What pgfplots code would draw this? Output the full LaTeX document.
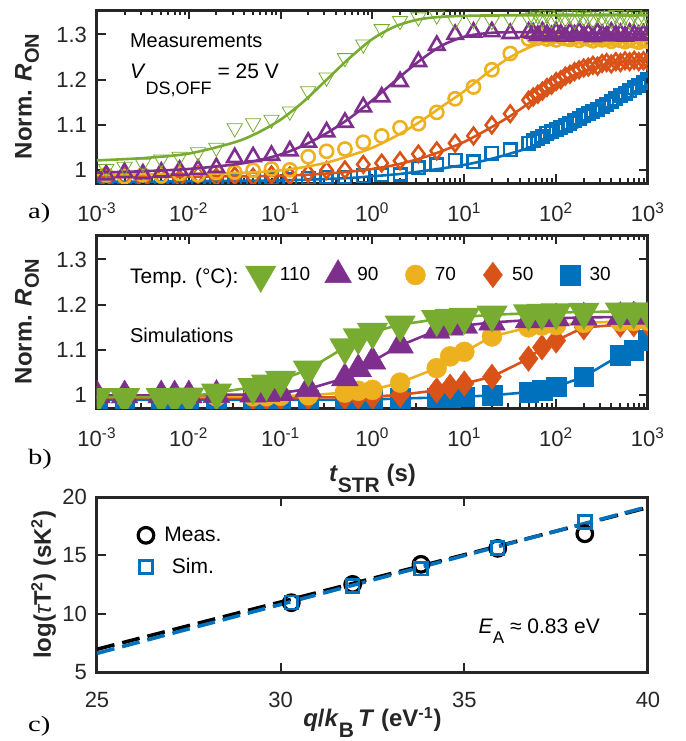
\documentclass[border=0pt]{standalone}
\usepackage{pgfplots}
\pgfplotsset{compat=1.18}
\usepackage{pgfplotstable}
\usepackage{fontspec}
\setmainfont{Liberation Sans}
\newfontfamily\panelfont{Liberation Serif}[FakeStretch=1.3]

\definecolor{cgreen}{rgb}{0.466,0.674,0.188}
\definecolor{cpurple}{rgb}{0.494,0.184,0.556}
\definecolor{cyellow}{rgb}{0.929,0.694,0.125}
\definecolor{corange}{rgb}{0.85,0.325,0.098}
\definecolor{cblue}{rgb}{0,0.447,0.741}
\definecolor{axgray}{HTML}{262626}

% measurements, panel a
\pgfplotstableread{
t g p y o b
0.001259 1.003 0.990 0.990 0.980 0.975
0.001995 1.008 0.995 0.986 0.985 0.978
0.003162 1.015 0.992 0.990 0.978 0.975
0.005012 1.024 0.996 0.988 0.985 0.977
0.007943 1.030 1.000 0.993 0.982 0.976
0.01259 1.040 1.002 0.990 0.990 0.978
0.01995 1.050 1.006 0.995 0.985 0.980
0.03162 1.093 1.028 0.996 0.988 0.978
0.05012 1.104 1.030 1.000 0.985 0.980
0.07943 1.112 1.033 1.003 0.990 0.982
0.1259 1.130 1.043 1.001 0.988 0.980
0.1995 1.175 1.062 1.030 0.993 0.983
0.3162 1.205 1.085 1.042 1.000 0.985
0.5012 1.248 1.106 1.047 1.001 0.985
0.7943 1.278 1.140 1.062 1.013 0.988
1.259 1.312 1.162 1.076 1.016 0.990
1.995 1.330 1.196 1.094 1.021 0.991
3.162 1.338 1.240 1.103 1.036 1.006
5.012 1.342 1.276 1.128 1.043 1.012
7.943 1.330 1.300 1.158 1.060 1.022
12.59 1.332 1.305 1.184 1.076 1.019
19.95 1.330 1.306 1.222 1.100 1.038
31.62 1.335 1.302 1.258 1.125 1.045
50.12 1.336 1.305 1.290 1.155 1.060
56.23 1.338 1.303 1.296 1.162 1.065
63.10 1.342 1.298 1.292 1.168 1.070
70.79 1.335 1.306 1.298 1.175 1.075
79.43 1.344 1.300 1.290 1.183 1.082
89.13 1.333 1.297 1.294 1.188 1.085
100.0 1.340 1.305 1.288 1.196 1.090
112.2 1.345 1.301 1.295 1.200 1.095
125.9 1.336 1.296 1.291 1.208 1.100
141.3 1.342 1.304 1.289 1.212 1.104
158.5 1.331 1.299 1.293 1.218 1.110
177.8 1.344 1.306 1.287 1.222 1.115
199.5 1.338 1.298 1.292 1.226 1.120
223.9 1.340 1.302 1.290 1.228 1.125
251.2 1.333 1.295 1.286 1.232 1.130
281.8 1.345 1.304 1.291 1.230 1.135
316.2 1.337 1.300 1.288 1.236 1.140
354.8 1.341 1.297 1.290 1.238 1.146
398.1 1.332 1.305 1.285 1.235 1.152
446.7 1.343 1.299 1.289 1.240 1.158
501.2 1.336 1.302 1.287 1.238 1.165
562.3 1.340 1.296 1.284 1.242 1.170
631.0 1.330 1.303 1.288 1.240 1.176
707.9 1.344 1.300 1.286 1.243 1.182
794.3 1.335 1.298 1.283 1.240 1.188
891.3 1.338 1.301 1.287 1.242 1.194
1000 1.340 1.300 1.285 1.240 1.200
}\measA

% fitted curves, panel a
\pgfplotstableread{
t G P Y O B
0.001 1.022 0.995 0.990 0.985 0.975
0.003162 1.027 0.998 0.991 0.985 0.975
0.01 1.037 1.003 0.992 0.986 0.976
0.03162 1.062 1.013 0.994 0.987 0.977
0.05623 1.083 1.022 0.996 0.987 0.977
0.1 1.112 1.035 1.000 0.988 0.978
0.1778 1.152 1.055 1.007 0.990 0.979
0.3162 1.200 1.082 1.017 0.993 0.981
0.5623 1.248 1.115 1.032 0.997 0.983
1 1.290 1.155 1.050 1.003 0.987
1.778 1.318 1.198 1.075 1.012 0.991
3.162 1.333 1.240 1.105 1.025 0.997
5.623 1.339 1.275 1.140 1.042 1.004
10 1.341 1.295 1.175 1.063 1.012
17.78 1.342 1.303 1.215 1.090 1.023
31.62 1.342 1.305 1.250 1.120 1.037
56.23 1.342 1.305 1.275 1.155 1.053
100 1.342 1.304 1.288 1.190 1.073
177.8 1.342 1.303 1.290 1.215 1.097
316.2 1.342 1.302 1.289 1.232 1.125
562.3 1.342 1.301 1.287 1.240 1.155
1000 1.342 1.300 1.285 1.243 1.190
}\fitA

% simulations, panel b
\pgfplotstableread{
t g p y o b
0.001 0.996 1.000 0.998 0.995 0.990
0.002 0.996 1.000 0.998 0.995 0.990
0.005 0.996 1.000 0.998 0.995 0.990
0.007 0.996 1.000 0.998 0.995 0.990
0.01 0.997 1.000 0.998 0.995 0.990
0.02 1.006 1.001 0.998 0.995 0.990
0.05 1.018 1.002 0.998 0.995 0.990
0.07 1.026 1.003 0.998 0.995 0.990
0.1 1.034 1.005 0.999 0.995 0.990
0.2 1.057 1.014 1.000 0.995 0.990
0.5 1.106 1.038 1.006 0.996 0.990
0.7 1.128 1.058 1.010 0.997 0.991
1 1.140 1.075 1.012 0.997 0.991
2 1.156 1.110 1.028 1.001 0.993
5 1.168 1.143 1.060 1.011 0.995
7 1.171 1.150 1.086 1.019 0.996
10 1.173 1.154 1.096 1.026 0.997
20 1.178 1.161 1.130 1.041 1.000
50 1.181 1.166 1.150 1.081 1.007
70 1.182 1.168 1.154 1.106 1.011
100 1.183 1.170 1.155 1.121 1.019
200 1.184 1.172 1.160 1.150 1.041
500 1.185 1.173 1.163 1.156 1.089
700 1.185 1.174 1.164 1.157 1.100
1000 1.185 1.174 1.165 1.158 1.122
}\simB

\pgfplotsset{
  mypanel/.style={
    scale only axis, width=275.5pt,
    axis line style={draw=axgray, line width=1.5pt},
    tick style={draw=axgray, line width=1pt},
    major tick length=4.5pt, minor tick length=2.5pt,
    tick align=inside,
    ticklabel style={font=\fontsize{11}{13}\selectfont, text=axgray},
    xticklabel style={yshift=-6.5pt},
    yticklabel style={xshift=-1.5pt},
    label style={font=\bfseries\fontsize{12}{14}\selectfont, text=axgray},
    clip marker paths=true,
  },
  mytime/.style={
    height=86.5pt,
    xmin=1e-3, xmax=1e3, ymin=0.972, ymax=1.354,
    xtick={1e-3,1e-2,1e-1,1,10,100,1000},
    xticklabels={10\textsuperscript{-3},10\textsuperscript{-2},10\textsuperscript{-1},10\textsuperscript{0},10\textsuperscript{1},10\textsuperscript{2},10\textsuperscript{3}},
    minor xtick={2e-3,3e-3,4e-3,5e-3,6e-3,7e-3,8e-3,9e-3,
      2e-2,3e-2,4e-2,5e-2,6e-2,7e-2,8e-2,9e-2,
      0.2,0.3,0.4,0.5,0.6,0.7,0.8,0.9,2,3,4,5,6,7,8,9,
      20,30,40,50,60,70,80,90,200,300,400,500,600,700,800,900},
    ytick={1,1.1,1.2,1.3}, yticklabels={1,1.1,1.2,1.3},
    ylabel={Norm. \textit{R}\raisebox{-0.3em}{\fontsize{10}{12}\selectfont ON}},
    ylabel style={at={(axis description cs:-0.1187,0.5)}, anchor=base},
  },
  mymeas/.style={only marks, mark options={solid, line width=1.3pt}},
  myfit/.style={line width=1.3pt, smooth, forget plot},
  mysim/.style={line width=1.3pt, mark options={solid, line width=0.2pt}},
}

\begin{document}
\begin{tikzpicture}
\path[use as bounding box] (0,0) rectangle (343pt,-370.5pt);

% ---- a) measurements
\begin{axis}[xmode=log, mypanel, mytime, at={(48.5pt,-5pt)}, anchor=north west]
\addplot[cblue, myfit] table[x=t,y=B]{\fitA};
\addplot[cblue, mymeas, mark=square, mark size=3.1pt] table[x=t,y=b]{\measA};
\addplot[corange, myfit] table[x=t,y=O]{\fitA};
\addplot[corange, mymeas, mark=diamond, mark size=4.1pt] table[x=t,y=o]{\measA};
\addplot[cyellow, myfit] table[x=t,y=Y]{\fitA};
\addplot[cyellow, mymeas, mark=o, mark size=3.3pt] table[x=t,y=y]{\measA};
\addplot[cpurple, myfit] table[x=t,y=P]{\fitA};
\addplot[cpurple, mymeas, mark=triangle, mark size=4.4pt] table[x=t,y=p]{\measA};
\addplot[cgreen, myfit] table[x=t,y=G]{\fitA};
\addplot[cgreen, mymeas, mark=triangle, mark size=4.4pt, mark options={rotate=180}] table[x=t,y=g]{\measA};
\node[anchor=base west, font=\fontsize{10}{12}\selectfont] at (axis description cs:0.0472,0.782) {Measurements};
\node[anchor=base west, font=\fontsize{10.5}{12}\selectfont] at (axis description cs:0.0472,0.605)
  {\textit{V}\raisebox{-8pt}{\fontsize{9}{10}\selectfont DS,OFF} = 25 V};
\end{axis}

% ---- b) simulations
\begin{axis}[xmode=log, mypanel, mytime, at={(48.5pt,-117.5pt)}, anchor=north west,
  xlabel={\textit{t}\raisebox{-0.47em}{\fontsize{10.5}{12}\selectfont STR} (s)},
  xlabel style={at={(axis description cs:0.5,-0.426)}, anchor=base},
  legend image code/.code={\path (-7pt,0pt) (7pt,0pt); \path[#1] plot coordinates {(0pt,0pt)};},
  reverse legend, legend columns=-1,
  legend style={draw=none, fill=none, inner sep=0pt,
    at={(axis description cs:0.2686,0.769)}, anchor=west,
    font=\fontsize{9.5}{11}\selectfont,
    /tikz/every even column/.append style={column sep=2.4pt}},
]
\addplot[cblue, mysim, mark=square*, mark size=4.9pt] table[x=t,y=b]{\simB};
\addlegendentry{\makebox[17pt][l]{30}}
\addplot[corange, mysim, mark=diamond*, mark size=6.4pt] table[x=t,y=o]{\simB};
\addlegendentry{\makebox[17pt][l]{50}}
\addplot[cyellow, mysim, mark=*, mark size=5pt] table[x=t,y=y]{\simB};
\addlegendentry{\makebox[17pt][l]{70}}
\addplot[cpurple, mysim, mark=triangle*, mark size=7.7pt] table[x=t,y=p]{\simB};
\addlegendentry{\makebox[17pt][l]{90}}
\addplot[cgreen, mysim, mark=triangle*, mark size=7.7pt, mark options={rotate=180}] table[x=t,y=g]{\simB};
\addlegendentry{\makebox[17pt][l]{110}}
\node[anchor=base west, font=\fontsize{10.5}{12}\selectfont] at (axis description cs:0.0472,0.721) {Temp. (°C):};
\node[anchor=base west, font=\fontsize{10}{12}\selectfont] at (axis description cs:0.0472,0.381) {Simulations};
\end{axis}

% ---- c) Arrhenius
\begin{axis}[mypanel, at={(48.5pt,-248.5pt)}, anchor=north west, height=87.5pt,
  xmin=25, xmax=40, ymin=5, ymax=20,
  xtick={25,30,35,40}, xticklabels={25,30,35,40},
  ytick={5,10,15,20}, yticklabels={5,10,15,20},
  xlabel={\textit{q}/\textit{k}\raisebox{-0.45em}{\fontsize{10.5}{12}\selectfont B}\,\textit{T} (eV\textsuperscript{-1})},
  xlabel style={at={(axis description cs:0.5,-0.314)}, anchor=base},
  ylabel={log({\mdseries\itshape τ}T\textsuperscript{2}) (sK\textsuperscript{2})},
  ylabel style={at={(axis description cs:-0.0835,0.5)}, anchor=base},
  legend image code/.code={\path (-7pt,0pt) (7pt,0pt); \path[#1] plot coordinates {(0pt,0pt)};},
  legend style={draw=none, fill=none, inner sep=0pt,
    at={(axis description cs:0.062,0.689)}, anchor=west,
    font=\fontsize{10.5}{12}\selectfont, row sep=3pt},
]
\addplot[black, line width=1.8pt, dash pattern=on 9pt off 4pt, forget plot] coordinates {(25,6.95) (40,19.1)};
\addplot[cblue, line width=1.8pt, dash pattern=on 9pt off 4pt, forget plot] coordinates {(25,6.6) (40,19.17)};
\addplot[black, only marks, mark=o, mark size=3.9pt, mark options={line width=1.6pt}]
  coordinates {(30.29,10.94) (31.96,12.51) (33.82,14.23) (35.91,15.6) (38.28,16.85)};
\addlegendentry{Meas.}
\addplot[cblue, only marks, mark=square, mark size=3.2pt, mark options={line width=1.3pt}]
  coordinates {(30.29,10.96) (31.96,12.37) (33.82,13.85) (35.91,15.62) (38.28,17.85)};
\addlegendentry{Sim.}
\node[anchor=base east, font=\fontsize{10.5}{12}\selectfont] at (axis cs:38.88,8.34)
  {\textit{E}\raisebox{-5pt}{\fontsize{8.5}{9}\selectfont A} ≈ 0.83 eV};
\end{axis}

\node[anchor=base west, font=\panelfont\fontsize{11}{13}\selectfont] at (10.5pt,-109.4pt) {a)};
\node[anchor=base west, font=\panelfont\fontsize{11}{13}\selectfont] at (10.5pt,-232pt) {b)};
\node[anchor=base west, font=\panelfont\fontsize{11}{13}\selectfont] at (10.5pt,-365.5pt) {c)};
\end{tikzpicture}
\end{document}
